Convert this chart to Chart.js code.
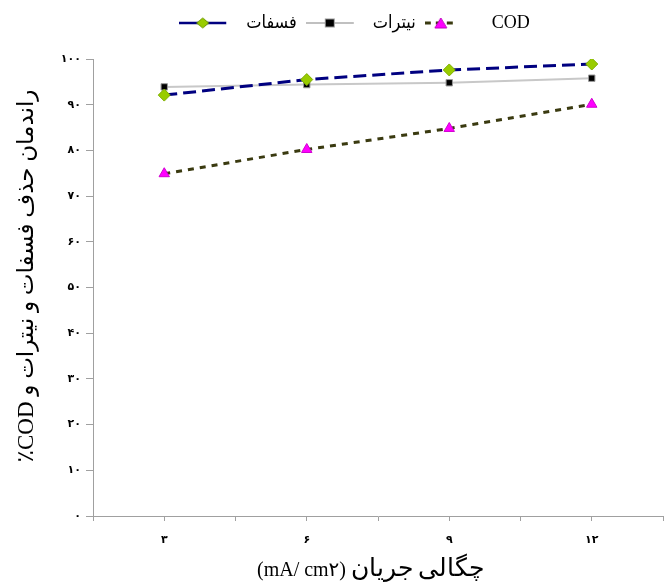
<!DOCTYPE html>
<html>
<head>
<meta charset="utf-8">
<script src="https://cdn.jsdelivr.net/npm/chart.js@4/dist/chart.umd.min.js"></script>
<style>
  html, body { margin: 0; padding: 0; background: #fff; overflow: hidden; }
  #wrap { width: 664px; height: 583px; overflow: hidden; }
  /* Persian letters a bit larger than the Latin text, digits left alone */
  @font-face {
    font-family: "FaBig";
    src: local("DejaVu Sans");
    unicode-range: U+0600-06EF, U+06FA-06FF, U+FB50-FDFF, U+FE70-FEFF;
    size-adjust: 127%;
  }
</style>
</head>
<body>
<div id="wrap"><canvas id="chart" width="676" height="583"></canvas></div>
<script>
// current density (mA/cm2) and removal efficiency (%)
const currentDensity = [3, 6, 9, 12];
const xTickLabels = ["۳", "۶", "۹", "۱۲"];
const yTickLabels = ["۰", "۱۰", "۲۰", "۳۰", "۴۰", "۵۰", "۶۰", "۷۰", "۸۰", "۹۰", "۱۰۰"];
const seriesNames = ["فسفات", "نیترات", "COD"];
const phosphate = [92.1, 95.5, 97.6, 98.9];
const nitrate = [93.9, 94.4, 94.8, 95.8];
const cod = [74.9, 80.2, 84.8, 90.1];

const toPoints = vals => vals.map((v, i) => ({ x: currentDensity[i], y: v }));

// little legend picture: line + marker, with blank room on the right
function legendIcon(lineColor, dash, lineWidth, from, to, drawMarker) {
  const c = document.createElement("canvas");
  c.width = 58; c.height = 14;
  const g = c.getContext("2d");
  g.strokeStyle = lineColor;
  g.lineWidth = lineWidth;
  g.setLineDash(dash);
  g.beginPath(); g.moveTo(from, 7); g.lineTo(to, 7); g.stroke();
  g.setLineDash([]);
  drawMarker(g, (from + to) / 2, 7);
  return c;
}

const icons = [
  legendIcon("#000080", [], 2.5, 0, 47, (g, x, y) => {
    g.fillStyle = "#99cc00"; g.strokeStyle = "#6f9a00"; g.lineWidth = 1;
    g.beginPath(); g.moveTo(x, y - 5); g.lineTo(x + 6, y); g.lineTo(x, y + 5); g.lineTo(x - 6, y); g.closePath();
    g.fill(); g.stroke();
  }),
  legendIcon("#c0c0c0", [], 2, 0, 48, (g, x, y) => {
    g.fillStyle = "#000"; g.strokeStyle = "#999"; g.lineWidth = 1;
    g.fillRect(x - 4.5, y - 4, 9, 8); g.strokeRect(x - 4.5, y - 4, 9, 8);
  }),
  legendIcon("#3a3a10", [6, 5], 3, 0, 32, (g, x, y) => {
    g.fillStyle = "#ff00ff"; g.strokeStyle = "#c000c0"; g.lineWidth = 1;
    g.beginPath(); g.moveTo(x, y - 5); g.lineTo(x + 6, y + 5); g.lineTo(x - 6, y + 5); g.closePath();
    g.fill(); g.stroke();
  })
];

const axisColor = "#a0a0a0";
const serifCond = "'Liberation Serif', 'DejaVu Sans Condensed', 'DejaVu Sans', serif";
const serif = "'Liberation Serif', 'DejaVu Sans', serif";

// legend sits a bit right of the canvas centre in the original
const shiftLegend = {
  id: "shiftLegend",
  afterLayout(chart) {
    chart.legend.left += 17;
    chart.legend.right += 17;
  }
};

function draw() {
  new Chart(document.getElementById("chart"), {
    type: "line",
    data: {
      datasets: [
        {
          label: seriesNames[0],
          data: toPoints(phosphate),
          borderColor: "#000080",
          borderWidth: 3,
          borderDash: [13, 6],
          pointStyle: "rectRot",
          pointRadius: 6,
          pointBackgroundColor: "#99cc00",
          pointBorderColor: "#7fae00",
          pointBorderWidth: 1
        },
        {
          label: seriesNames[1],
          data: toPoints(nitrate),
          borderColor: "#c8c8c8",
          borderWidth: 2,
          pointStyle: "rect",
          pointRadius: 4.5,
          pointBackgroundColor: "#000",
          pointBorderColor: "#999",
          pointBorderWidth: 1
        },
        {
          label: seriesNames[2],
          data: toPoints(cod),
          borderColor: "#3a3a10",
          borderWidth: 3,
          borderDash: [6, 6],
          pointStyle: "triangle",
          pointRadius: 6,
          pointBackgroundColor: "#ff00ff",
          pointBorderColor: "#d000d0",
          pointBorderWidth: 1
        }
      ]
    },
    plugins: [shiftLegend],
    options: {
      responsive: false,
      animation: false,
      layout: { padding: { left: 0, right: 1, top: 5, bottom: 0 } },
      plugins: {
        tooltip: { enabled: false },
        // empty title only used as a spacer under the legend
        title: {
          display: true,
          text: "",
          weight: 500,
          font: { size: 10 },
          padding: { top: 2, bottom: 3 }
        },
        legend: {
          position: "top",
          labels: {
            usePointStyle: true,
            pointStyleWidth: 58,
            boxHeight: 14,
            padding: 9,
            color: "#000",
            font: { family: serifCond, size: 18 },
            generateLabels: chart => chart.data.datasets.map((ds, i) => ({
              text: ds.label,
              pointStyle: icons[i],
              datasetIndex: i,
              fillStyle: "transparent",
              strokeStyle: "transparent",
              lineWidth: 0,
              fontColor: "#000"
            }))
          }
        }
      },
      scales: {
        x: {
          type: "linear",
          min: 1.5,
          max: 13.5,
          afterFit: s => { s.height = 67; },
          border: { color: axisColor, width: 1 },
          grid: { drawOnChartArea: false, drawTicks: true, tickLength: 5, color: axisColor },
          ticks: {
            stepSize: 1.5,
            autoSkip: false,
            maxRotation: 0,
            padding: 13,
            color: "#000",
            font: { family: "'DejaVu Sans', sans-serif", size: 11, weight: "bold" },
            callback: v => {
              const i = currentDensity.indexOf(v);
              return i >= 0 ? xTickLabels[i] : "";
            }
          },
          title: {
            display: true,
            text: "(mA/ cm۲) چگالی جریان   ",
            color: "#000",
            padding: { top: 2, bottom: 0 },
            font: { family: "'Liberation Serif', FaBig, 'DejaVu Sans', serif", size: 20 }
          }
        },
        y: {
          min: 0,
          max: 100,
          afterFit: s => { s.width = 93; },
          border: { color: axisColor, width: 1 },
          grid: { drawOnChartArea: false, drawTicks: true, tickLength: 7, color: axisColor },
          ticks: {
            stepSize: 10,
            padding: 5,
            color: "#000",
            font: { family: "'DejaVu Sans', sans-serif", size: 11, weight: "bold" },
            callback: (v, i) => yTickLabels[i]
          },
          title: {
            display: true,
            text: "    ٪COD راندمان حذف فسفات و نیترات و",
            color: "#000",
            padding: { top: 13, bottom: 8 },
            font: { family: serif, size: 23 }
          }
        }
      }
    }
  });
}

document.fonts.load("20px FaBig", "چگالی جریان").then(draw, draw);
</script>
</body>
</html>
